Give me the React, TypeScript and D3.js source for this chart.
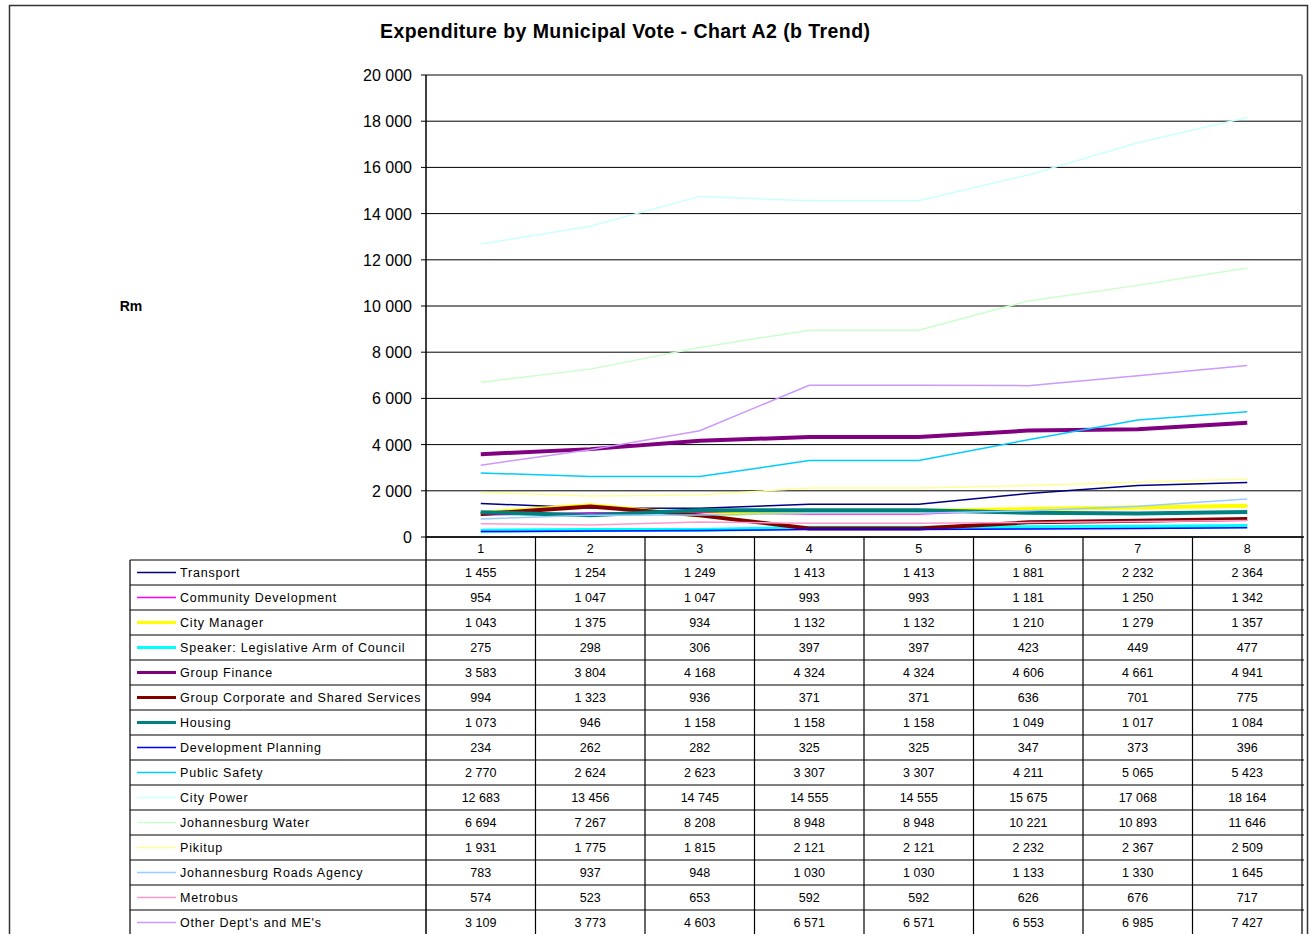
import React from "react";
import * as d3 from "d3";

const categories = ["1", "2", "3", "4", "5", "6", "7", "8"];

const seriesNames = [
  "Transport",
  "Community Development",
  "City Manager",
  "Speaker: Legislative Arm of Council",
  "Group Finance",
  "Group Corporate and Shared Services",
  "Housing",
  "Development Planning",
  "Public Safety",
  "City Power",
  "Johannesburg Water",
  "Pikitup",
  "Johannesburg Roads Agency",
  "Metrobus",
  "Other Dept's and ME's",
];

const transport = [1455, 1254, 1249, 1413, 1413, 1881, 2232, 2364];
const communityDevelopment = [954, 1047, 1047, 993, 993, 1181, 1250, 1342];
const cityManager = [1043, 1375, 934, 1132, 1132, 1210, 1279, 1357];
const speaker = [275, 298, 306, 397, 397, 423, 449, 477];
const groupFinance = [3583, 3804, 4168, 4324, 4324, 4606, 4661, 4941];
const groupCorporate = [994, 1323, 936, 371, 371, 636, 701, 775];
const housing = [1073, 946, 1158, 1158, 1158, 1049, 1017, 1084];
const developmentPlanning = [234, 262, 282, 325, 325, 347, 373, 396];
const publicSafety = [2770, 2624, 2623, 3307, 3307, 4211, 5065, 5423];
const cityPower = [12683, 13456, 14745, 14555, 14555, 15675, 17068, 18164];
const joburgWater = [6694, 7267, 8208, 8948, 8948, 10221, 10893, 11646];
const pikitup = [1931, 1775, 1815, 2121, 2121, 2232, 2367, 2509];
const roadsAgency = [783, 937, 948, 1030, 1030, 1133, 1330, 1645];
const metrobus = [574, 523, 653, 592, 592, 626, 676, 717];
const otherDepts = [3109, 3773, 4603, 6571, 6571, 6553, 6985, 7427];

const seriesValues = [
  transport, communityDevelopment, cityManager, speaker, groupFinance,
  groupCorporate, housing, developmentPlanning, publicSafety, cityPower,
  joburgWater, pikitup, roadsAgency, metrobus, otherDepts,
];

const seriesColors = [
  "#000080", "#FF00FF", "#FFFF00", "#00FFFF", "#800080",
  "#800000", "#008080", "#0000FF", "#00CCFF", "#CCFFFF",
  "#CCFFCC", "#FFFF99", "#99CCFF", "#FF99CC", "#CC99FF",
];
const seriesWidths = [1.5, 1.5, 4, 4, 4, 4, 4, 1.5, 1.5, 1.5, 1.5, 1.5, 1.5, 1.5, 1.5];

const yTicks = [0, 2000, 4000, 6000, 8000, 10000, 12000, 14000, 16000, 18000, 20000];

const fmt = (v: number) => d3.format(",")(v).replace(/,/g, " ");

const W = 1309;
const H = 934;
const plotLeft = 426;
const plotRight = 1302;
const plotTop = 75;
const plotBottom = 537;
const tableLeft = 130;
const headerH = 23;
const rowH = 25;
const font = "'Liberation Sans', Arial, sans-serif";

export default function App() {
  const x = d3.scaleBand<string>().domain(categories).range([plotLeft, plotRight]);
  const y = d3.scaleLinear().domain([0, 20000]).range([plotBottom, plotTop]);
  const line = d3
    .line<number>()
    .x((_, i) => (x(categories[i]) as number) + x.bandwidth() / 2)
    .y((d) => y(d));

  const tableTop = plotBottom + headerH;
  const tableBottom = tableTop + rowH * seriesNames.length;

  return (
    <svg
      width={W}
      height={H}
      style={{ position: "absolute", left: 0, top: 0, background: "#fff" }}
      fontFamily={font}
    >
      <rect x={9.5} y={5.5} width={1298} height={940} fill="#fff" stroke="#333" strokeWidth={1.5} />
      <text
        x={380}
        y={38}
        fontSize={19.5}
        fontWeight="bold"
        textLength={490}
        lengthAdjust="spacing"
      >
        Expenditure by Municipal Vote - Chart A2 (b Trend)
      </text>
      <text x={131} y={311} textAnchor="middle" fontSize={14} fontWeight="bold">
        Rm
      </text>

      {/* gridlines */}
      {yTicks.map((t) => (
        <g key={t}>
          <line
            x1={plotLeft - 5}
            x2={plotRight}
            y1={y(t)}
            y2={y(t)}
            stroke={t === 20000 ? "#808080" : "#000"}
            strokeWidth={t === 20000 ? 2 : 1}
          />
          <text x={412} y={y(t) + 6} textAnchor="end" fontSize={16}>
            {fmt(t)}
          </text>
        </g>
      ))}
      <line x1={plotRight} x2={plotRight} y1={plotTop} y2={plotBottom} stroke="#808080" strokeWidth={2} />
      <line x1={plotLeft} x2={plotLeft} y1={plotTop} y2={tableBottom} stroke="#000" strokeWidth={1.5} />

      {/* series */}
      {seriesValues.map((vals, i) => (
        <path
          key={seriesNames[i]}
          d={line(vals) as string}
          fill="none"
          stroke={seriesColors[i]}
          strokeWidth={seriesWidths[i]}
        />
      ))}

      {/* data table */}
      <line x1={plotLeft} x2={plotRight + 2} y1={plotBottom} y2={plotBottom} stroke="#000" strokeWidth={1.5} />
      {categories.map((c) => (
        <g key={c}>
          <line
            x1={(x(c) as number) + x.bandwidth()}
            x2={(x(c) as number) + x.bandwidth()}
            y1={plotBottom}
            y2={tableBottom}
            stroke="#000"
            strokeWidth={1.2}
          />
          <text
            x={(x(c) as number) + x.bandwidth() / 2}
            y={plotBottom + 16}
            textAnchor="middle"
            fontSize={12.5}
          >
            {c}
          </text>
        </g>
      ))}
      <line x1={tableLeft} x2={tableLeft} y1={tableTop} y2={tableBottom} stroke="#000" strokeWidth={1.2} />
      {seriesNames.map((name, i) => {
        const top = tableTop + i * rowH;
        return (
          <g key={name}>
            <line x1={tableLeft} x2={plotRight + 2} y1={top} y2={top} stroke="#000" strokeWidth={1.2} />
            <line
              x1={137}
              x2={176}
              y1={top + rowH / 2}
              y2={top + rowH / 2}
              stroke={seriesColors[i]}
              strokeWidth={seriesWidths[i] > 2 ? 3 : 1.3}
            />
            <text x={180} y={top + 17} fontSize={12.5} letterSpacing={0.8}>
              {name}
            </text>
            {seriesValues[i].map((v, j) => (
              <text
                key={j}
                x={(x(categories[j]) as number) + x.bandwidth() / 2}
                y={top + 17}
                textAnchor="middle"
                fontSize={12.5}
              >
                {fmt(v)}
              </text>
            ))}
          </g>
        );
      })}
    </svg>
  );
}
